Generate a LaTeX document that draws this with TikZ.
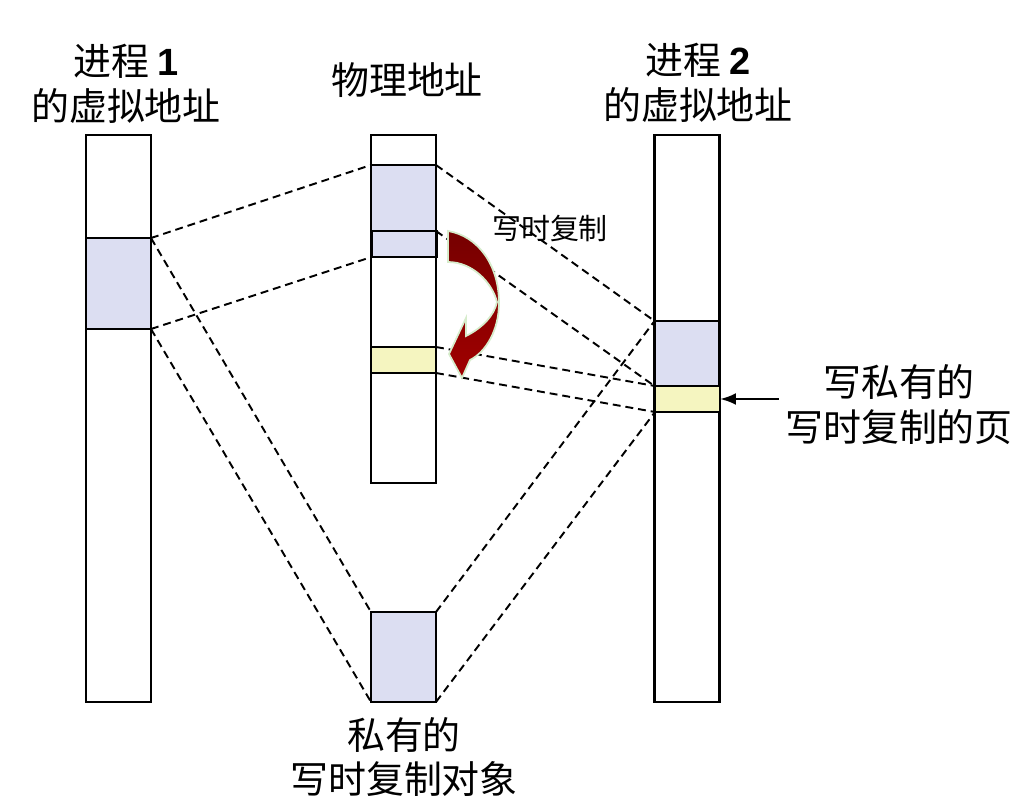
\documentclass[tikz,border=0pt]{standalone}
\usepackage{fontspec}
\setmainfont{Liberation Sans}
\newfontfamily\cjk{Noto Sans CJK SC}
\usetikzlibrary{arrows.meta}
\definecolor{PageBlue}{RGB}{220,222,242}
\definecolor{PageYellow}{RGB}{245,245,192}
\definecolor{CowDark}{RGB}{118,0,0}
\definecolor{CowRed}{RGB}{160,0,0}
\definecolor{CowEdge}{RGB}{214,236,204}
\tikzset{
  col/.style={draw,line width=1.5pt,fill=white,minimum width=1.3cm,inner sep=0pt,outer sep=0pt},
  pg/.style={col,fill=PageBlue},
  newpg/.style={col,fill=PageYellow},
  map/.style={line width=1.1pt,dash pattern=on 4.5pt off 2.8pt},
  lbl/.style={align=center,font=\cjk\fontsize{21.6}{25.6}\selectfont}
}
\begin{document}
\begin{tikzpicture}[x=0.02cm,y=-0.02cm,>={Latex[length=0.32cm,width=0.24cm]}]
\useasboundingbox (0,0) rectangle (1015,802);
\node[col,minimum height=11.34cm] (v1) at (118.5,418.5){};\node[pg,minimum height=1.82cm] (v1p) at (118.5,283.5){};
\node[col,minimum height=6.96cm] (ph) at (403.5,309){};\node[pg,minimum height=1.32cm] (pht) at (403.5,198){};
\node[pg,minimum height=0.52cm] (phc) at (404,244){};\node[newpg,minimum height=0.52cm] (phn) at (403.5,360){};
\node[pg,minimum height=1.8cm] (obj) at (403.5,657){};
\node[col,minimum height=11.34cm] (v2) at (687,418.5){};\node[pg,minimum height=1.3cm] (v2p) at (687,353.5){};
\node[newpg,minimum height=0.52cm] (v2n) at (687.5,399){};
\draw[map] (v1p.north east) -- (pht.north west);\draw[map] (v1p.south east) -- (phc.south west);
\draw[map] (v1p.north east) -- (obj.north west);\draw[map] (v1p.south east) -- (obj.south west);
\draw[map] (pht.north east) -- (v2p.north west);\draw[map] (pht.south east) -- (v2p.south west);
\draw[map] (phn.north east) -- (v2n.north west);\draw[map] (phn.south east) -- (v2n.south west);
\draw[map] (obj.north east) -- (v2p.north west);\draw[map] (obj.south east) -- (v2n.south west);
\draw[top color=CowDark,bottom color=CowRed,draw=CowEdge,line width=1pt] (448,231) .. controls (478,236) and (499,265) .. (499,303) .. controls (499,330) and (486,352) .. (470,360) -- (462,378) -- (449,354) -- (466,318) -- (466,336) .. controls (482,328) and (494,316) .. (497,302) .. controls (492,282) and (472,262) .. (448,262) -- cycle;
\node[font=\cjk\fontsize{16.5}{19}\selectfont] (cow) at (550,228){写时复制};
\node[lbl] (t1) at (126,84){进程 {\rmfamily\bfseries 1}\\的虚拟地址};
\node[lbl] (t0) at (407,80){物理地址};
\node[lbl] (t2) at (698,83){进程 {\rmfamily\bfseries 2}\\的虚拟地址};
\node[lbl] (rl) at (899,405){写私有的\\写时复制的页};
\node[lbl] (bl) at (404,757){私有的\\写时复制对象};
\draw[<-,line width=1.5pt] (v2n.east) -- (v2n.east -| rl.west);
\end{tikzpicture}
\end{document}
